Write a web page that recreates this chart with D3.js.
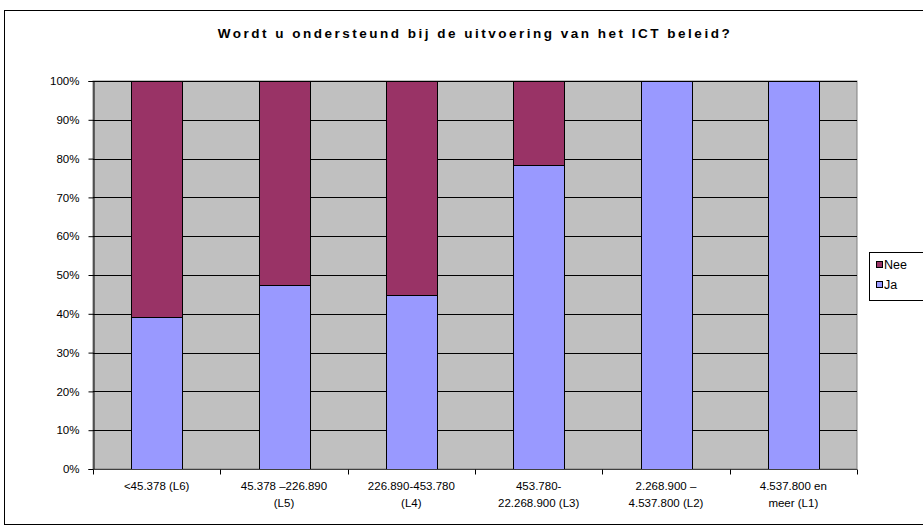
<!DOCTYPE html>
<html><head><meta charset="utf-8">
<script src="https://cdn.jsdelivr.net/npm/d3@7"></script>
<style>body{margin:0;background:#fff}svg{display:block;font-family:Arial,"Liberation Sans",sans-serif}</style>
</head><body><svg id="c" width="923" height="528"></svg>
<script>
const categories = ["<45.378 (L6)", "45.378 \u2013226.890 (L5)", "226.890-453.780 (L4)", "453.780-22.268.900 (L3)", "2.268.900 \u2013 4.537.800 (L2)", "4.537.800 en meer (L1)"];
const labelLines = [["<45.378 (L6)"], ["45.378 \u2013226.890", "(L5)"], ["226.890-453.780", "(L4)"], ["453.780-", "22.268.900 (L3)"], ["2.268.900 \u2013", "4.537.800 (L2)"], ["4.537.800 en", "meer (L1)"]];
const ja = [0.391, 0.475, 0.449, 0.783, 1.0, 1.0];
const nee = [0.609, 0.525, 0.551, 0.217, 0.0, 0.0];
const seriesNames = ["Nee", "Ja"];
const colors = {Ja: "#9999FF", Nee: "#993366"};
const yTicks = [0, 0.1, 0.2, 0.3, 0.4, 0.5, 0.6, 0.7, 0.8, 0.9, 1.0];
const title = "Wordt u ondersteund bij de uitvoering van het ICT beleid?";

const svg = d3.select("#c");
const L = 93, R = 857, T = 81, B = 469;

svg.append("rect").attr("x", 4.5).attr("y", 10.5).attr("width", 920).attr("height", 514)
  .attr("fill", "#fff").attr("stroke", "#000").attr("stroke-width", 1);

const x = d3.scaleBand().domain(categories).range([L, R]).paddingInner(0.6).paddingOuter(0.3);
const y = d3.scaleLinear().domain([0, 1]).range([B, T]);

svg.append("rect").attr("x", L).attr("y", T).attr("width", R - L).attr("height", B - T)
  .attr("fill", "#C0C0C0").attr("stroke", "#808080").attr("stroke-width", 1);

svg.append("g").selectAll("line").data(yTicks.slice(1)).join("line")
  .attr("x1", L).attr("x2", R).attr("y1", d => Math.round(y(d)) + 0.5).attr("y2", d => Math.round(y(d)) + 0.5)
  .attr("stroke", "#000").attr("stroke-width", 1);

const data = categories.map((c, i) => ({c, Ja: ja[i], Nee: nee[i]}));
const stack = d3.stack().keys(["Ja", "Nee"])(data);
svg.append("g").selectAll("g").data(stack).join("g").attr("fill", d => colors[d.key])
  .selectAll("rect").data(d => d.filter(p => p[1] - p[0] > 0)).join("rect")
  .attr("x", d => Math.round(x(d.data.c)) + 0.5).attr("width", Math.round(x.bandwidth()))
  .attr("y", d => Math.round(y(d[1])) + 0.5).attr("height", d => Math.round(y(d[0])) - Math.round(y(d[1])))
  .attr("stroke", "#000").attr("stroke-width", 1);

// y axis
const ya = svg.append("g").attr("transform", `translate(${L + 0.5},0)`)
  .call(d3.axisLeft(y).tickValues(yTicks).tickFormat(d3.format(".0%")).tickSize(5).tickPadding(9));
ya.select(".domain").attr("stroke", "#000");
ya.selectAll("text").attr("font-size", 11.5).attr("font-family", "Arial").attr("fill", "#000");

// x axis
const xa = svg.append("g").attr("transform", `translate(0,${B + 0.5})`);
xa.append("line").attr("x1", L).attr("x2", R).attr("stroke", "#404040");
const step = (R - L) / categories.length;
xa.selectAll("line.t").data(d3.range(categories.length + 1)).join("line").attr("class", "t")
  .attr("x1", i => Math.round(L + i * step) + 0.5).attr("x2", i => Math.round(L + i * step) + 0.5)
  .attr("y1", 0).attr("y2", 5).attr("stroke", "#000");
xa.selectAll("text").data(categories).join("text")
  .attr("x", d => x(d) + x.bandwidth() / 2).attr("y", 20)
  .attr("text-anchor", "middle").attr("font-size", 11.5).attr("font-family", "Arial")
  .each(function(d, i) {
    d3.select(this).selectAll("tspan").data(labelLines[i]).join("tspan")
      .attr("x", x(d) + x.bandwidth() / 2).attr("dy", (t, j) => j ? 17 : 0).text(t => t);
  });

svg.append("text").attr("x", (L + R) / 2).attr("y", 38).attr("text-anchor", "middle")
  .attr("font-size", 13.5).attr("font-weight", "bold").attr("letter-spacing", 2.5).attr("font-family", "Arial")
  .text(title);

// legend
const lg = svg.append("g");
lg.append("rect").attr("x", 869.5).attr("y", 252.5).attr("width", 60).attr("height", 48)
  .attr("fill", "#fff").attr("stroke", "#000");
seriesNames.forEach((s, i) => {
  lg.append("rect").attr("x", 876.5).attr("y", 261.5 + i * 20).attr("width", 6).attr("height", 6)
    .attr("fill", colors[s]).attr("stroke", "#000");
  lg.append("text").attr("x", 884).attr("y", 269 + i * 20).attr("font-size", 12.5).attr("font-family", "Arial").text(s);
});
</script></body></html>
